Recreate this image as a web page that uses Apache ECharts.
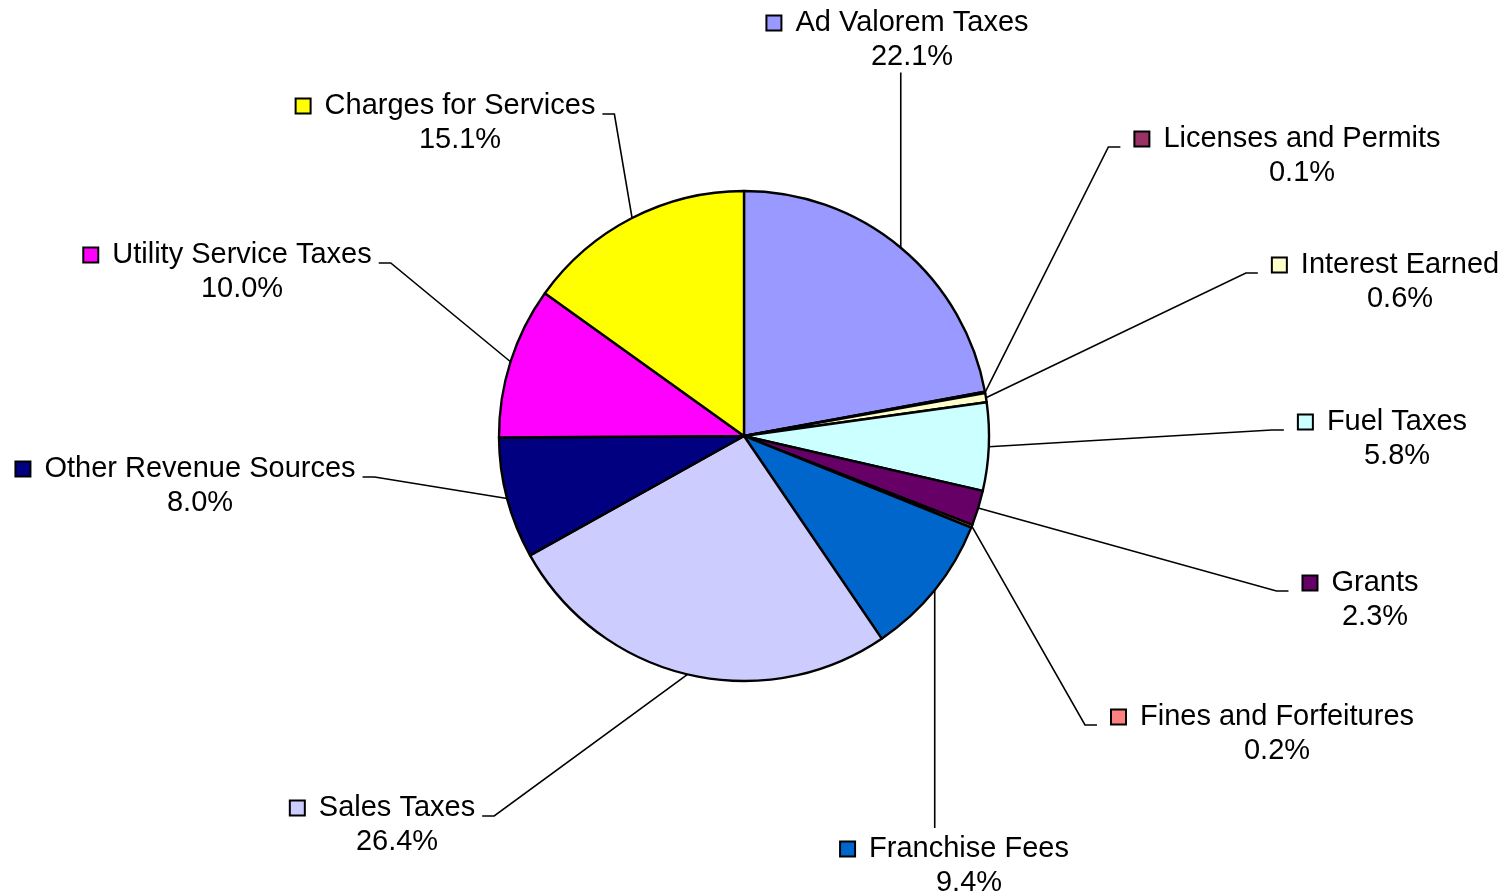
<!DOCTYPE html>
<html>
<head>
<meta charset="utf-8">
<title>Revenue Sources</title>
<script src="https://cdn.jsdelivr.net/npm/echarts@6/dist/echarts.min.js"></script>
<style>
  html, body { margin: 0; padding: 0; background: #fff; }
  #main { width: 1512px; height: 896px; }
</style>
</head>
<body>
<div id="main"></div>
<script>
// revenue shares in percent, clockwise from 12 o'clock
var categories = ['Ad Valorem Taxes', 'Licenses and Permits', 'Interest Earned', 'Fuel Taxes', 'Grants',
  'Fines and Forfeitures', 'Franchise Fees', 'Sales Taxes', 'Other Revenue Sources',
  'Utility Service Taxes', 'Charges for Services'];
var shares = [22.1, 0.1, 0.6, 5.8, 2.3, 0.2, 9.4, 26.4, 8.0, 10.0, 15.1];
var colors = ['#9999FF', '#993366', '#FFFFCC', '#CCFFFF', '#660066', '#FF8080',
  '#0066CC', '#CCCCFF', '#000080', '#FF00FF', '#FFFF00'];

// label placement (layout only): centre x of the name text, y of the first line
var labelSpots = [[912, 21], [1302, 137], [1400, 263], [1397, 420], [1375, 581], [1277, 715],
  [969, 847], [397, 806], [200, 467], [242, 253], [460, 104]];

var KEY = 13, GAP = 15, LINE = 33.5;
var FONT = "'Liberation Sans', Arial, sans-serif";

var rich = {
  g: { width: GAP, lineHeight: LINE },
  n: { fontSize: 29, lineHeight: LINE, color: '#000', fontFamily: FONT },
  p: { fontSize: 29, lineHeight: LINE, color: '#000', fontFamily: FONT, padding: [0, 0, 0, KEY + GAP] }
};
colors.forEach(function (c, i) {
  rich['k' + i] = { width: KEY, height: KEY, backgroundColor: c, borderColor: '#000', borderWidth: 2 };
});

var chartDom = document.getElementById('main');
var myChart = echarts.init(chartDom);
var option;

option = {
  backgroundColor: '#fff',
  color: colors,
  animation: false,
  series: [{
    type: 'pie',
    center: [744, 436],
    radius: 245,
    startAngle: 90,
    clockwise: true,
    avoidLabelOverlap: false,
    itemStyle: { borderColor: '#000', borderWidth: 2.4 },
    label: {
      show: true,
      position: 'outside',
      align: 'center',
      rich: rich,
      formatter: function (p) {
        return '{k' + p.dataIndex + '|}{g|}{n|' + p.name + '}\n{p|' + p.value.toFixed(1) + '%}';
      }
    },
    labelLine: {
      show: true,
      length: 20,
      length2: 12,
      lineStyle: { color: '#000', width: 1.6 }
    },
    labelLayout: function (params) {
      var spot = labelSpots[params.dataIndex];
      var w = params.labelRect.width;
      var bx = spot[0] - (KEY + GAP) / 2;
      var by = spot[1] + LINE / 2 + 2;
      var left = bx - w / 2, right = bx + w / 2;
      var s = params.labelLinePoints[0];
      var pts;
      if (s[0] > left && s[0] < right) {
        var ey = s[1] > by ? spot[1] + LINE + 18 : spot[1] - 19;
        pts = [s, [s[0], ey], [s[0], ey]];
      } else if (s[0] < left) {
        var ex = left - 14, ey2 = spot[1] + 10;
        pts = [s, [ex - 12, ey2], [ex, ey2]];
      } else {
        var ex3 = right + 6, ey3 = spot[1] + 10;
        pts = [s, [ex3 + 12, ey3], [ex3, ey3]];
      }
      return {
        x: bx,
        y: by,
        align: 'center',
        verticalAlign: 'middle',
        labelLinePoints: pts
      };
    },
    data: categories.map(function (name, i) {
      return { name: name, value: shares[i] };
    })
  }]
};

option && myChart.setOption(option);
</script>
</body>
</html>
